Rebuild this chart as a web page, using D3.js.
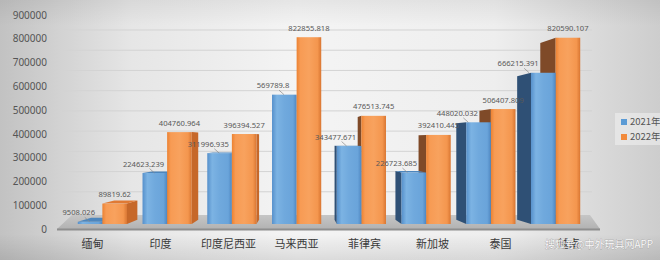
<!DOCTYPE html>
<html>
<head>
<meta charset="utf-8">
<script src="https://cdn.jsdelivr.net/npm/d3@7"></script>
<style>
body { margin: 0; }
svg { display: block; font-family: "Noto Sans", "Noto Sans CJK SC", sans-serif; }
</style>
</head>
<body>
<svg width="660" height="260"></svg>
<script>
var categories = ["缅甸", "印度", "印度尼西亚", "马来西亚", "菲律宾", "新加坡", "泰国", "越南"];
var seriesNames = ["2021年", "2022年"];
var values2021 = [9508.026, 224623.239, 311996.935, 569789.8, 343477.671, 226723.685, 448020.032, 666215.391];
var values2022 = [89819.62, 404760.964, 396394.527, 822855.818, 476513.745, 392410.445, 506407.809, 820590.107];
var yTicks = [0, 100000, 200000, 300000, 400000, 500000, 600000, 700000, 800000, 900000];

var svg = d3.select("svg"),
	width = +svg.attr("width"),
	height = +svg.attr("height");

// perspective helpers (vanishing point + depth factors)
var vx = 300, vy = 141, kx = 0.06, ky = 0.05;
function back(p) { return [p[0] + kx * (vx - p[0]), p[1] + ky * (vy - p[1])]; }

var x = d3.scaleBand().domain(categories).range([70, 588]).paddingInner(0.24).paddingOuter(0.12);
var xSub = d3.scaleBand().domain(seriesNames).range([0, x.bandwidth()]);
var y = d3.scaleLinear().domain([0, 900000]).range([224, 19.7]);
var yLabel = d3.scaleLinear().domain([0, 900000]).range([229, 15]);
var yWall = d3.scaleLinear().domain([0, 900000]).range([212, 30]);

var defs = svg.append("defs");
var bg = defs.append("linearGradient").attr("id", "bg");
[[0, "#c2c2c2"], [0.2, "#e6e6e6"], [0.45, "#f4f4f4"], [0.75, "#eeeeee"], [1, "#cdcdcd"]].forEach(function(s) {
	bg.append("stop").attr("offset", s[0]).attr("stop-color", s[1]);
});
var bgV = defs.append("linearGradient").attr("id", "bgV").attr("x2", 0).attr("y2", 1);
[[0, "#000", 0.06], [0.1, "#000", 0], [0.9, "#000", 0], [1, "#000", 0.1]].forEach(function(s) {
	bgV.append("stop").attr("offset", s[0]).attr("stop-color", s[1]).attr("stop-opacity", s[2]);
});
var gradOrange = defs.append("linearGradient").attr("id", "gOrange");
[[0, "#ec8232"], [0.15, "#f79b54"], [0.5, "#f8a25e"], [0.85, "#f4964e"], [1, "#d97632"]].forEach(function(s) {
	gradOrange.append("stop").attr("offset", s[0]).attr("stop-color", s[1]);
});
var gradBlue = defs.append("linearGradient").attr("id", "gBlue");
[[0, "#5690cb"], [0.2, "#7cb3e3"], [0.5, "#70a9dd"], [0.85, "#6aa4da"], [1, "#4f87c1"]].forEach(function(s) {
	gradBlue.append("stop").attr("offset", s[0]).attr("stop-color", s[1]);
});
var gradFloor = defs.append("linearGradient").attr("id", "gFloor").attr("x2", 0).attr("y2", 1);
gradFloor.append("stop").attr("offset", 0).attr("stop-color", "#c6c6c6");
gradFloor.append("stop").attr("offset", 1).attr("stop-color", "#b2b2b2");

svg.append("rect").attr("width", width).attr("height", height).attr("fill", "url(#bg)");
svg.append("rect").attr("width", width).attr("height", height).attr("fill", "url(#bgV)");

// back wall gridlines
svg.append("g").selectAll("line")
	.data(yTicks.slice(1))
	.enter().append("line")
	.attr("x1", 62).attr("x2", 592)
	.attr("y1", function(d) { return yWall(d); })
	.attr("y2", function(d) { return yWall(d); })
	.attr("stroke", "#d3d3d3")
	.attr("stroke-width", 1);

// floor
var fl = x.range()[0] - 13, fr = x.range()[1] + 12;
svg.append("path")
	.attr("d", "M" + fl + "," + yLabel(0) + "L" + (fl + 15) + "," + (yWall(0) + 3) + "L" + (fr - 10) + "," + (yWall(0) + 3) + "L" + fr + "," + yLabel(0) + "Z")
	.attr("fill", "url(#gFloor)");
svg.append("line")
	.attr("x1", fl).attr("x2", fr).attr("y1", yLabel(0) + 0.5).attr("y2", yLabel(0) + 0.5)
	.attr("stroke", "#8e8e8e").attr("stroke-width", 2);

// bars
var bars = [];
categories.forEach(function(c, i) {
	bars.push({cat: c, s: seriesNames[0], v: values2021[i]});
	bars.push({cat: c, s: seriesNames[1], v: values2022[i]});
});
bars.forEach(function(b) {
	b.x0 = x(b.cat) + xSub(b.s);
	b.x1 = b.x0 + xSub.bandwidth();
	b.top = y(b.v);
	b.bot = y(0);
	b.blue = b.s === seriesNames[0];
});
var order = bars.slice().sort(function(a, b) {
	return Math.abs((b.x0 + b.x1) / 2 - vx) - Math.abs((a.x0 + a.x1) / 2 - vx);
});

var sideCol = {
	blueR: "#3f73a8", blueL: "#2f5075", orangeR: "#c6682a", orangeL: "#7f4a28",
	blueT: "#4d86bd", orangeT: "#e07a34"
};
function poly(pts) { return "M" + pts.map(function(p) { return p.join(","); }).join("L") + "Z"; }

var gBars = svg.append("g");
order.forEach(function(b) {
	var g = gBars.append("g");
	var ftl = [b.x0, b.top], ftr = [b.x1, b.top], fbl = [b.x0, b.bot], fbr = [b.x1, b.bot];
	if (b.x1 < vx) {
		g.append("path").attr("d", poly([ftr, fbr, back(fbr), back(ftr)]))
			.attr("fill", b.blue ? sideCol.blueR : sideCol.orangeR);
	} else if (b.x0 > vx) {
		g.append("path").attr("d", poly([ftl, fbl, back(fbl), back(ftl)]))
			.attr("fill", b.blue ? sideCol.blueL : sideCol.orangeL);
	}
	if (b.top > vy) {
		g.append("path").attr("d", poly([ftl, ftr, back(ftr), back(ftl)]))
			.attr("fill", b.blue ? sideCol.blueT : sideCol.orangeT);
	}
	g.append("rect")
		.attr("x", b.x0).attr("y", b.top)
		.attr("width", b.x1 - b.x0).attr("height", b.bot - b.top)
		.attr("fill", b.blue ? "url(#gBlue)" : "url(#gOrange)");
});

// data labels
var gLab = svg.append("g").attr("font-size", "7.6px").attr("fill", "#595959");
bars.forEach(function(b) {
	var lx, ly = b.top - 6.5;
	if (b.blue) {
		lx = Math.min(b.x0, back([b.x0, b.top])[0]) + 1;
		gLab.append("line")
			.attr("x1", lx + 6).attr("y1", ly + 2)
			.attr("x2", lx + 11).attr("y2", b.top)
			.attr("stroke", "#8a8a8a").attr("stroke-width", 0.7);
	} else {
		lx = (b.x0 + b.x1) / 2;
	}
	gLab.append("text")
		.attr("x", lx).attr("y", ly)
		.attr("text-anchor", "middle")
		.text(String(b.v));
});

// value axis labels
var yAxis = svg.append("g")
	.attr("transform", "translate(49,0)")
	.call(d3.axisLeft(yLabel).tickValues(yTicks).tickSize(0).tickPadding(2).tickFormat(d3.format("d")));
yAxis.select(".domain").remove();
yAxis.selectAll("text").attr("font-size", "10px").attr("fill", "#555").attr("font-family", "Noto Sans, sans-serif");

// category labels
svg.append("g").selectAll("text")
	.data(categories)
	.enter().append("text")
	.attr("x", function(d) { var c = x(d) + x.bandwidth() / 2; return vx + (c - vx) * 1.05; })
	.attr("y", 248)
	.attr("text-anchor", "middle")
	.attr("font-size", "11px")
	.attr("fill", "#3a3a3a")
	.attr("font-family", "Noto Sans CJK SC, sans-serif")
	.text(function(d) { return d; });

// legend
var legend = svg.append("g").attr("transform", "translate(615,113)");
legend.append("rect").attr("width", 45).attr("height", 32).attr("fill", "#f2f2f2").attr("opacity", 0.55);
var legItems = legend.selectAll(".legend")
	.data(seriesNames)
	.enter().append("g")
	.attr("class", "legend")
	.attr("transform", function(d, i) { return "translate(6," + (6 + i * 15) + ")"; });
legItems.append("rect")
	.attr("width", 6).attr("height", 6)
	.attr("fill", function(d, i) { return i === 0 ? "#5b9bd5" : "#f28a3c"; });
legItems.append("text")
	.attr("x", 9).attr("y", 6)
	.attr("font-size", "9.5px")
	.attr("fill", "#555")
	.attr("font-family", "Noto Sans CJK SC, sans-serif")
	.text(function(d) { return d; });

// watermark
svg.append("text")
	.attr("x", 545).attr("y", 248)
	.attr("font-size", "10px")
	.attr("font-family", "Noto Sans CJK SC, sans-serif")
	.attr("fill", "#fff")
	.attr("stroke", "#9a9a9a").attr("stroke-width", 0.6).attr("paint-order", "stroke")
	.attr("opacity", 0.9)
	.text("搜狐号@中外玩具网APP");
</script>
</body>
</html>
